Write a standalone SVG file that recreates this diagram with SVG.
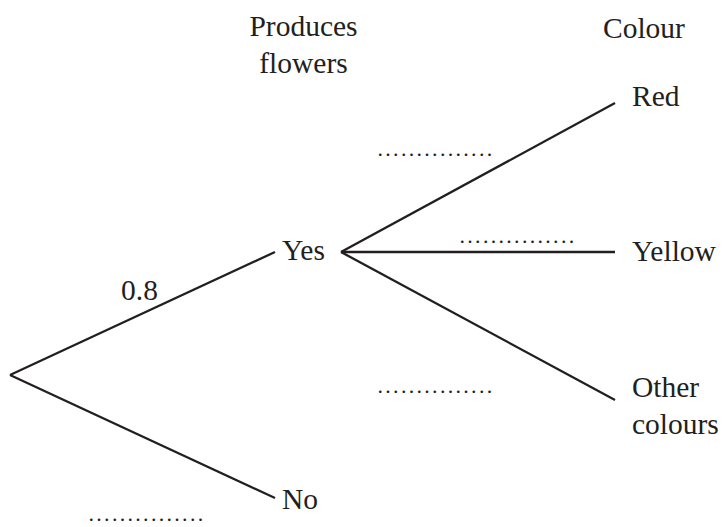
<svg xmlns="http://www.w3.org/2000/svg" width="724" height="527" viewBox="0 0 724 527">
<style>
text{font-family:"Liberation Serif","Times New Roman",serif;font-size:29.5px;fill:#231f20}
.dots{font-size:22px;letter-spacing:2.3px}
.br{stroke:#231f20;stroke-width:2.3;fill:none;stroke-linecap:butt}
</style>
<rect width="724" height="527" fill="#ffffff"/>
<g id="headers">
<text x="303.5" y="36" text-anchor="middle">Produces</text>
<text x="303.5" y="73" text-anchor="middle">flowers</text>
<text x="603" y="38">Colour</text>
</g>
<g id="connectors">
<line class="br" x1="10" y1="375" x2="275" y2="252"/>
<line class="br" x1="10" y1="375" x2="275" y2="498"/>
<line class="br" x1="341" y1="252" x2="615" y2="103"/>
<line class="br" x1="341" y1="252" x2="615" y2="252"/>
<line class="br" x1="341" y1="252" x2="615" y2="400"/>
</g>
<g id="node-yes"><text x="282" y="260">Yes</text></g>
<g id="node-no"><text x="282" y="509">No</text></g>
<g id="node-red"><text x="632" y="106">Red</text></g>
<g id="node-yellow"><text x="632" y="261">Yellow</text></g>
<g id="node-other"><text x="632" y="397">Other</text><text x="632" y="434">colours</text></g>
<g id="labels">
<text x="121" y="300">0.8</text>
<text class="dots" x="377.5" y="156">...............</text>
<text class="dots" x="459.5" y="243">...............</text>
<text class="dots" x="377.5" y="393">...............</text>
<text class="dots" x="88.5" y="521">...............</text>
</g>
</svg>
